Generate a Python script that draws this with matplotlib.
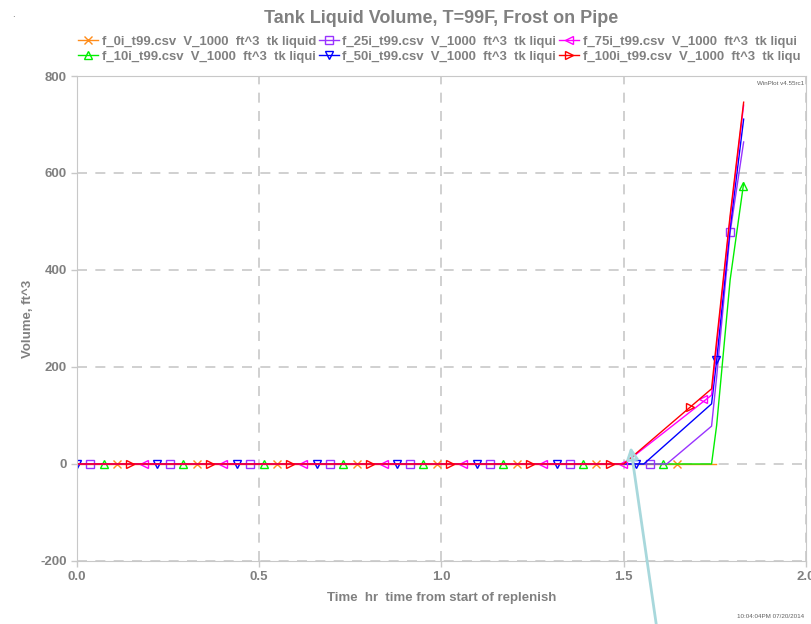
import numpy as np
import matplotlib
matplotlib.use("Agg")
import matplotlib.pyplot as plt

# === 1. Data (time in hr, volume in ft^3) ===
# line breakpoints per run
t_0i = [0.0, 1.752]
v_0i = [0, 0]
t_10i = [0.0, 1.741, 1.755, 1.792, 1.829]
v_10i = [0, 0, 80, 380, 579]
t_25i = [0.0, 1.618, 1.741, 1.755, 1.792, 1.829]
v_25i = [0, 0, 78, 180, 478, 664]
t_50i = [0.0, 1.555, 1.741, 1.755, 1.792, 1.829]
v_50i = [0, 0, 124, 214, 487, 711]
t_75i = [0.0, 1.500, 1.741, 1.755, 1.792, 1.829]
v_75i = [0, 0, 142, 245, 505, 740]
t_100i = [0.0, 1.500, 1.741, 1.755, 1.792, 1.829]
v_100i = [0, 0, 155, 255, 513, 746]

# marker positions per run
mt_0i = [0.110, 0.329, 0.548, 0.768, 0.987, 1.206, 1.425, 1.645]
mv_0i = [0, 0, 0, 0, 0, 0, 0, 0]
mt_10i = [0.073, 0.292, 0.512, 0.731, 0.950, 1.170, 1.389, 1.608, 1.827]
mv_10i = [0, 0, 0, 0, 0, 0, 0, 0, 573]
mt_25i = [0.037, 0.256, 0.475, 0.694, 0.914, 1.133, 1.352, 1.571, 1.791]
mv_25i = [0, 0, 0, 0, 0, 0, 0, 0, 478]
mt_50i = [0.0, 0.219, 0.439, 0.658, 0.877, 1.097, 1.316, 1.535, 1.754]
mv_50i = [0, 0, 0, 0, 0, 0, 0, 0, 214]
mt_75i = [0.183, 0.402, 0.621, 0.841, 1.060, 1.279, 1.499, 1.718]
mv_75i = [0, 0, 0, 0, 0, 0, 0, 134]
mt_100i = [0.146, 0.366, 0.585, 0.804, 1.023, 1.243, 1.462, 1.681]
mv_100i = [0, 0, 0, 0, 0, 0, 0, 118]

runs = [
    ("f_0i_t99.csv  V_1000  ft^3  tk liquid", t_0i, v_0i, mt_0i, mv_0i, "#ff8c1a", "x"),
    ("f_10i_t99.csv  V_1000  ft^3  tk liqui", t_10i, v_10i, mt_10i, mv_10i, "#00ee00", "^"),
    ("f_25i_t99.csv  V_1000  ft^3  tk liqui", t_25i, v_25i, mt_25i, mv_25i, "#9933ff", "s"),
    ("f_50i_t99.csv  V_1000  ft^3  tk liqui", t_50i, v_50i, mt_50i, mv_50i, "#0000ff", "v"),
    ("f_75i_t99.csv  V_1000  ft^3  tk liqui", t_75i, v_75i, mt_75i, mv_75i, "#ff00ff", "<"),
    ("f_100i_t99.csv  V_1000  ft^3  tk liqu", t_100i, v_100i, mt_100i, mv_100i, "#ff0000", ">"),
]

gray = "#808080"
plt.rcParams['font.family'] = ['Liberation Sans', 'DejaVu Sans']
plt.rcParams['axes.unicode_minus'] = False

# === 2. Figure ===
fig = plt.figure(figsize=(8.11, 6.24), dpi=100)
ax = fig.add_axes([0.0949, 0.101, 0.8989, 0.7772])

handles = []
for label, t, v, mt, mv, col, mk in runs:
    ax.plot(t, v, color=col, lw=1.0)
    ax.plot(mt, mv, ls="none", marker=mk, ms=5.5, mfc="none", mec=col, mew=1.0)
    h, = ax.plot([], [], color=col, lw=1.0, marker=mk, ms=5.5, mfc="none", mec=col, mew=1.0)
    handles.append((h, label))

# arrow pointing at the start of replenish
ax.annotate("", xy=(1.519, 35), xytext=(1.592, -345), annotation_clip=False,
            arrowprops=dict(arrowstyle="-|>", color="#a8d8dc", lw=2, fill=False,
                            mutation_scale=18, shrinkA=0, shrinkB=0))

ax.set_xlim(0, 2.0)
ax.set_ylim(-200, 800)
ax.set_xticks([0.0, 0.5, 1.0, 1.5, 2.0])
ax.set_xticklabels(["0.0", "0.5", "1.0", "1.5", "2.0"])
ax.set_yticks([-200, 0, 200, 400, 600, 800])
ax.tick_params(colors="#c8c8c8", labelcolor=gray, labelsize=9.5, length=4, width=1)
for lab in ax.get_xticklabels() + ax.get_yticklabels():
    lab.set_fontweight("bold")
for s in ax.spines.values():
    s.set_color("#c8c8c8")
ax.grid(True, color="#c8c8c8", ls=(0, (6, 5)), lw=1.2)

ax.set_xlabel("Time  hr  time from start of replenish", color=gray, fontsize=9.5,
              fontweight="bold", labelpad=6)
ax.set_ylabel("Volume, ft^3", color=gray, fontsize=9.5, fontweight="bold", labelpad=4)

fig.text(0.5445, 0.970, "Tank Liquid Volume, T=99F, Frost on Pipe", ha="center", va="center",
         color=gray, fontsize=13, fontweight="bold")

# legend: row 1 = 0i, 25i, 75i ; row 2 = 10i, 50i, 100i (column-major order)
leg = fig.legend([h for h, _ in handles], [l for _, l in handles], ncol=3,
                 loc="upper left", bbox_to_anchor=(0.090, 0.951), frameon=False,
                 fontsize=9.45, handlelength=1.5, handletextpad=0.3, columnspacing=0.2,
                 labelspacing=0.2, borderaxespad=0)
for txt in leg.get_texts():
    txt.set_color(gray)
    txt.set_fontweight("bold")

fig.text(0.992, 0.866, "WinPlot v4.55rc1", ha="right", va="center", color="#606060", fontsize=4.5)
fig.text(0.992, 0.012, "10:04:04PM 07/20/2014", ha="right", va="center", color="#606060", fontsize=4.5)
fig.text(0.016, 0.978, ".", ha="center", va="center", color="#606060", fontsize=7)

fig.savefig("out.png", dpi=100)
